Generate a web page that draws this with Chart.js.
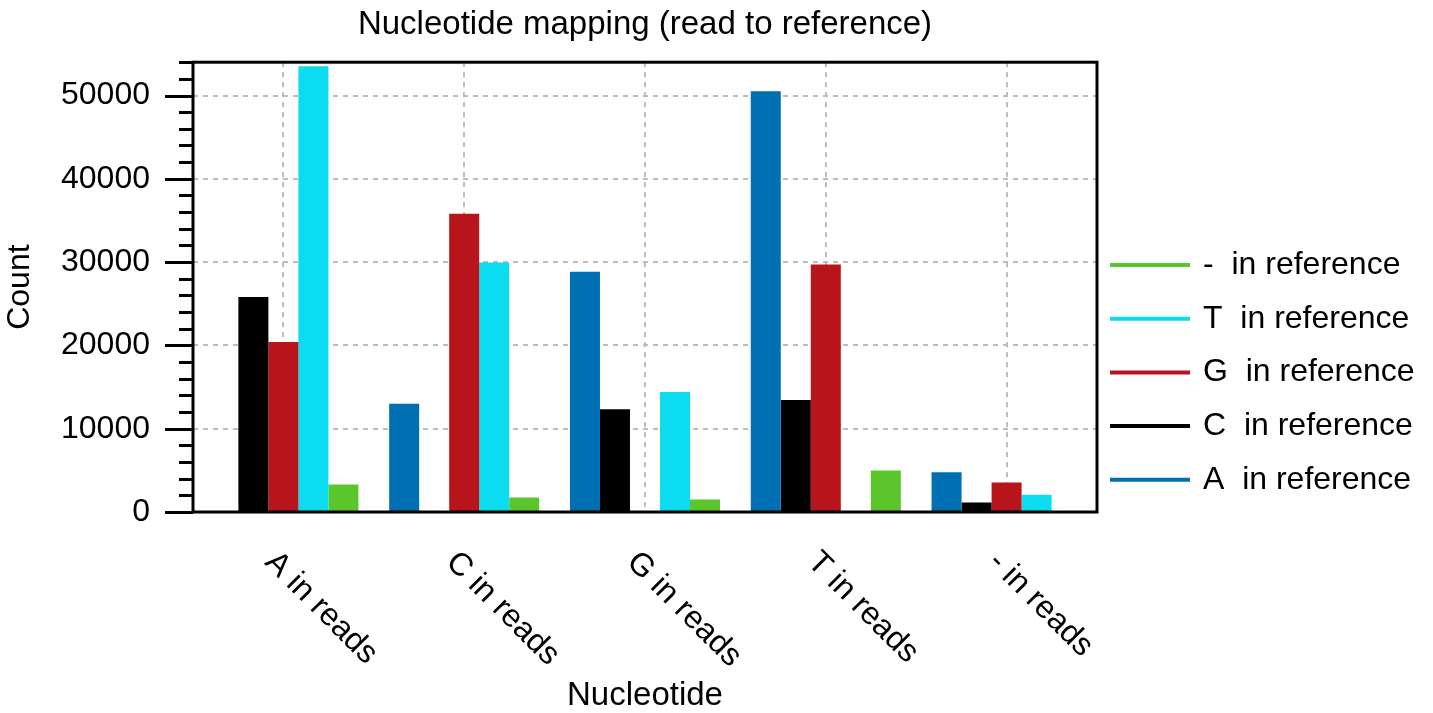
<!DOCTYPE html>
<html>
<head>
<meta charset="utf-8">
<script src="https://cdn.jsdelivr.net/npm/chart.js@4/dist/chart.umd.min.js"></script>
<style>
  html, body { margin: 0; padding: 0; background: #ffffff; }
  canvas { display: block; }
</style>
</head>
<body>
<canvas id="c" width="1433" height="713"></canvas>
<script>
// Read nucleotides (x categories)
const categories = ['A in reads', 'C in reads', 'G in reads', 'T in reads', '- in reads'];

// Counts of each reference nucleotide for each read nucleotide
const aInReference   = [0, 13000, 28850, 50500, 4780];
const cInReference   = [25800, 0, 12350, 13450, 1150];
const gInReference   = [20400, 35800, 0, 29700, 3550];
const tInReference   = [53500, 29950, 14400, 0, 2080];
const gapInReference = [3300, 1750, 1500, 4980, 0];

const seriesNames  = ['A  in reference', 'C  in reference', 'G  in reference', 'T  in reference', '-  in reference'];
const seriesValues = [aInReference, cInReference, gInReference, tInReference, gapInReference];
const seriesColors = ['#0070b3', '#000000', '#b8141c', '#0bdcf0', '#5bc62b'];

// Count axis
const yMin = 0;
const yMax = 54000;
const yTickValues = [0, 10000, 20000, 30000, 40000, 50000];
const yMinorStep = 2000;

const titleText  = 'Nucleotide mapping (read to reference)';
const xTitleText = 'Nucleotide';
const yTitleText = 'Count';

const FONT = '"Liberation Sans", Arial, Helvetica, sans-serif';

// Frame, tick marks, slanted category labels, titles and the line legend
const decorations = {
  id: 'decorations',
  afterDraw(chart) {
    const { ctx, chartArea: a, scales: { x, y } } = chart;
    ctx.save();

    // y tick marks (long at labelled values, short in between)
    ctx.strokeStyle = '#000';
    ctx.lineWidth = 3;
    for (let v = yMin; v <= yMax; v += yMinorStep) {
      const py = Math.round(y.getPixelForValue(v)) + 0.5;
      const len = yTickValues.includes(v) ? 28 : 14;
      ctx.beginPath();
      ctx.moveTo(a.left - len, py);
      ctx.lineTo(a.left, py);
      ctx.stroke();
    }

    // plot frame
    ctx.lineWidth = 3;
    ctx.strokeRect(a.left, a.top, a.right - a.left, a.bottom - a.top);

    // category labels, slanted downwards
    ctx.fillStyle = '#000';
    ctx.font = '32px ' + FONT;
    ctx.textAlign = 'left';
    ctx.textBaseline = 'top';
    categories.forEach((label, i) => {
      const px = x.getPixelForTick(i);
      ctx.save();
      ctx.translate(px - 2, a.bottom + 34);
      ctx.rotate(Math.PI / 4);
      ctx.fillText(label, 0, 0);
      ctx.restore();
    });

    const cx = (a.left + a.right) / 2;

    // chart title
    ctx.font = '33px ' + FONT;
    ctx.textAlign = 'center';
    ctx.textBaseline = 'alphabetic';
    ctx.fillText(titleText, cx, 34);

    // x axis title
    ctx.fillText(xTitleText, cx, 705);

    // y axis title
    ctx.font = '32px ' + FONT;
    ctx.save();
    ctx.translate(20, (a.top + a.bottom) / 2);
    ctx.rotate(-Math.PI / 2);
    ctx.textAlign = 'center';
    ctx.textBaseline = 'middle';
    ctx.fillText(yTitleText, 0, 0);
    ctx.restore();

    // legend (last series on top)
    ctx.textAlign = 'left';
    ctx.textBaseline = 'middle';
    ctx.lineWidth = 4;
    const order = [4, 3, 2, 1, 0];
    order.forEach((s, k) => {
      const ly = 265 + k * 53.7;
      ctx.strokeStyle = seriesColors[s];
      ctx.beginPath();
      ctx.moveTo(1110, ly);
      ctx.lineTo(1190, ly);
      ctx.stroke();
      ctx.fillStyle = '#000';
      ctx.fillText(seriesNames[s], 1203, ly);
    });

    ctx.restore();
  }
};

const datasets = seriesNames.map((name, s) => ({
  label: name,
  data: seriesValues[s],
  backgroundColor: seriesColors[s],
  borderWidth: 0,
  barPercentage: 1.0,
  categoryPercentage: 0.83
}));

new Chart(document.getElementById('c'), {
  type: 'bar',
  data: { labels: categories, datasets },
  plugins: [decorations],
  options: {
    responsive: false,
    animation: false,
    devicePixelRatio: 1,
    layout: { padding: { top: 60, right: 336, left: 0, bottom: 0 } },
    plugins: {
      legend: { display: false },
      title: { display: false },
      tooltip: { enabled: false }
    },
    scales: {
      x: {
        offset: true,
        grid: {
          offset: false,
          drawTicks: false,
          color: '#bcbcbc',
          lineWidth: 2
        },
        border: { display: false, dash: [5, 5] },
        ticks: { display: false },
        afterFit(scale) { scale.height = 201; }
      },
      y: {
        type: 'linear',
        min: yMin,
        max: yMax,
        grid: {
          drawTicks: false,
          color: '#bcbcbc',
          lineWidth: 2
        },
        border: { display: false, dash: [5, 5] },
        ticks: {
          autoSkip: false,
          padding: 43,
          color: '#000',
          font: { family: FONT, size: 32 },
          callback: (value) => String(value)
        },
        afterBuildTicks(scale) {
          scale.ticks = yTickValues.map(v => ({ value: v }));
        },
        afterFit(scale) { scale.width = 193; }
      }
    }
  }
});
</script>
</body>
</html>
